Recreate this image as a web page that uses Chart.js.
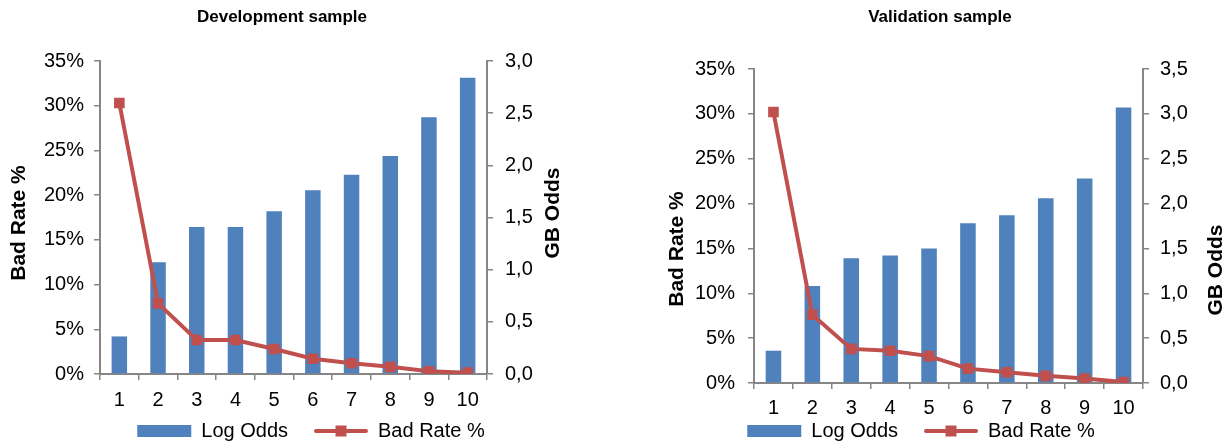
<!DOCTYPE html>
<html>
<head>
<meta charset="utf-8">
<script src="https://cdn.jsdelivr.net/npm/chart.js@4/dist/chart.umd.min.js"></script>
<style>
  html, body { margin: 0; padding: 0; background: #fff; width: 1229px; height: 445px; overflow: hidden; }
  canvas { position: absolute; top: 0; }
  #devChart { left: 0; }
  #valChart { left: 651px; }
</style>
</head>
<body>
<canvas id="devChart" width="564" height="445"></canvas>
<canvas id="valChart" width="578" height="445"></canvas>
<script>
// deciles on the x axis
var deciles = ['1', '2', '3', '4', '5', '6', '7', '8', '9', '10'];

// Development sample
var devOdds = [0.36, 1.07, 1.41, 1.41, 1.56, 1.76, 1.91, 2.09, 2.46, 2.84];
var devBadRate = [30.3, 7.9, 3.8, 3.8, 2.8, 1.7, 1.2, 0.8, 0.3, 0.15];

// Validation sample
var valOdds = [0.36, 1.08, 1.39, 1.42, 1.50, 1.78, 1.87, 2.06, 2.28, 3.07];
var valBadRate = [30.2, 7.6, 3.8, 3.6, 3.0, 1.6, 1.2, 0.8, 0.5, 0.1];

var FONT = "'Liberation Sans', Arial, sans-serif";
var TICK_SIZE = 20;
var BLUE = '#4F81BD';
var RED = '#C0504D';
var AXIS = '#868686';

// y axis titles, both reading bottom-to-top like the excel original
var axisTitles = {
  id: 'axisTitles',
  afterDraw(chart, args, opts) {
    var ctx = chart.ctx;
    ctx.save();
    ctx.font = 'bold 21px ' + FONT;
    ctx.fillStyle = '#000';
    ctx.textAlign = 'center';
    ctx.textBaseline = 'middle';
    opts.items.forEach(t => {
      var s = chart.scales[t.scale];
      var x = t.side === 'left' ? s.left + t.dx : s.right - t.dx;
      ctx.save();
      ctx.translate(x, t.y);
      ctx.rotate(-Math.PI / 2);
      ctx.fillText(t.text, 0, 0);
      ctx.restore();
    });
    ctx.restore();
  }
};

// move the legend box (it is not centred under the title, and sits close to the x labels)
// only the top moves up, so the clip box of the legend still reaches the canvas bottom
var legendShift = {
  id: 'legendShift',
  afterLayout(chart, args, opts) {
    var lg = chart.legend;
    if (!lg) return;
    lg.left += opts.dx;
    lg.right += opts.dx;
    lg.top += opts.dy;
  }
};

// line-with-square symbol for the line series in the legend
var lineLegend = {
  id: 'lineLegend',
  afterDraw(chart) {
    var lg = chart.legend;
    var ctx = chart.ctx;
    lg.legendItems.forEach((item, i) => {
      var ds = chart.data.datasets[item.datasetIndex];
      if (ds.type !== 'line') return;
      var hb = lg.legendHitBoxes[i];
      var bw = lg.options.labels.boxWidth;
      var y = hb.top + TICK_SIZE / 2;
      ctx.save();
      ctx.strokeStyle = ds.borderColor;
      ctx.lineWidth = ds.borderWidth;
      ctx.lineCap = 'round';
      ctx.beginPath();
      ctx.moveTo(hb.left + 2, y);
      ctx.lineTo(hb.left + bw - 2, y);
      ctx.stroke();
      ctx.fillStyle = ds.pointBackgroundColor;
      ctx.fillRect(hb.left + bw / 2 - 5.5, y - 5.5, 11, 11);
      ctx.restore();
    });
  }
};

function makeChart(id, title, odds, badRate, oddsMax, lay) {
  return new Chart(id, {
    type: 'bar',
    data: {
      labels: deciles,
      datasets: [{
        type: 'bar',
        label: 'Log Odds',
        data: odds,
        yAxisID: 'y1',
        backgroundColor: BLUE,
        borderWidth: 0,
        barPercentage: 0.4,
        categoryPercentage: 1,
        order: 1
      }, {
        type: 'line',
        label: 'Bad Rate %',
        data: badRate,
        yAxisID: 'y',
        borderColor: RED,
        borderWidth: 4,
        pointStyle: 'rect',
        pointRadius: 7.5,
        pointBackgroundColor: RED,
        pointBorderColor: RED,
        pointBorderWidth: 0,
        tension: 0,
        order: 0
      }]
    },
    options: {
      responsive: false,
      animation: false,
      layout: { padding: 0 },
      plugins: {
        title: {
          display: true,
          text: title,
          color: '#000',
          font: { family: FONT, size: 17, weight: 'bold' },
          padding: { top: 7, bottom: lay.titleBottom }
        },
        legend: {
          display: true,
          position: 'bottom',
          maxHeight: 14,
          labels: {
            color: '#000',
            font: { family: FONT, size: TICK_SIZE },
            boxWidth: 54,
            boxHeight: 12,
            padding: 26,
            sort: (a, b) => a.datasetIndex - b.datasetIndex,
            generateLabels: function (chart) {
              var items = Chart.defaults.plugins.legend.labels.generateLabels(chart);
              items.forEach(it => {
                if (chart.data.datasets[it.datasetIndex].type === 'line') {
                  it.fillStyle = 'rgba(0,0,0,0)';
                  it.strokeStyle = 'rgba(0,0,0,0)';
                  it.lineWidth = 0;
                }
              });
              return items;
            }
          }
        },
        tooltip: { enabled: false },
        legendShift: { dx: lay.legendDx, dy: -36 },
        axisTitles: { items: lay.titles }
      },
      scales: {
        x: {
          grid: { drawOnChartArea: false, tickLength: 6, color: AXIS, lineWidth: 1.5 },
          border: { color: AXIS, width: 2 },
          ticks: { color: '#000', font: { family: FONT, size: TICK_SIZE }, padding: lay.xPad, maxRotation: 0, autoSkip: false },
          afterFit: s => { s.height = lay.xHeight; }
        },
        y: {
          position: 'left',
          min: 0,
          max: 35,
          grid: { drawOnChartArea: false, tickLength: 6, color: AXIS, lineWidth: 1.5 },
          border: { color: AXIS, width: 2 },
          ticks: {
            stepSize: 5,
            color: '#000',
            font: { family: FONT, size: TICK_SIZE },
            padding: lay.yPad,
            callback: v => v + '%'
          },
          afterFit: s => { s.width = lay.yWidth; }
        },
        y1: {
          position: 'right',
          min: 0,
          max: oddsMax,
          grid: { drawOnChartArea: false, tickLength: 6, color: AXIS, lineWidth: 1.5 },
          border: { color: AXIS, width: 2 },
          ticks: {
            stepSize: 0.5,
            color: '#000',
            font: { family: FONT, size: TICK_SIZE },
            padding: lay.y1Pad,
            callback: v => v.toFixed(1).replace('.', ',')
          },
          afterFit: s => { s.width = lay.y1Width; }
        }
      }
    },
    plugins: [legendShift, lineLegend, axisTitles]
  });
}

makeChart('devChart', 'Development sample', devOdds, devBadRate, 3, {
  titleBottom: 33.6, xHeight: 57, xPad: 8, yWidth: 100, y1Width: 77, yPad: 10, y1Pad: 12, legendDx: 29,
  titles: [
    { text: 'Bad Rate %', scale: 'y', side: 'left', dx: 19, y: 223 },
    { text: 'GB Odds', scale: 'y1', side: 'right', dx: 11, y: 213 }
  ]
});

makeChart('valChart', 'Validation sample', valOdds, valBadRate, 3.5, {
  titleBottom: 41.6, xHeight: 48, xPad: 7, yWidth: 103, y1Width: 86, yPad: 13, y1Pad: 11, legendDx: -19,
  titles: [
    { text: 'Bad Rate %', scale: 'y', side: 'left', dx: 26, y: 249 },
    { text: 'GB Odds', scale: 'y1', side: 'right', dx: 13, y: 270 }
  ]
});
</script>
</body>
</html>
